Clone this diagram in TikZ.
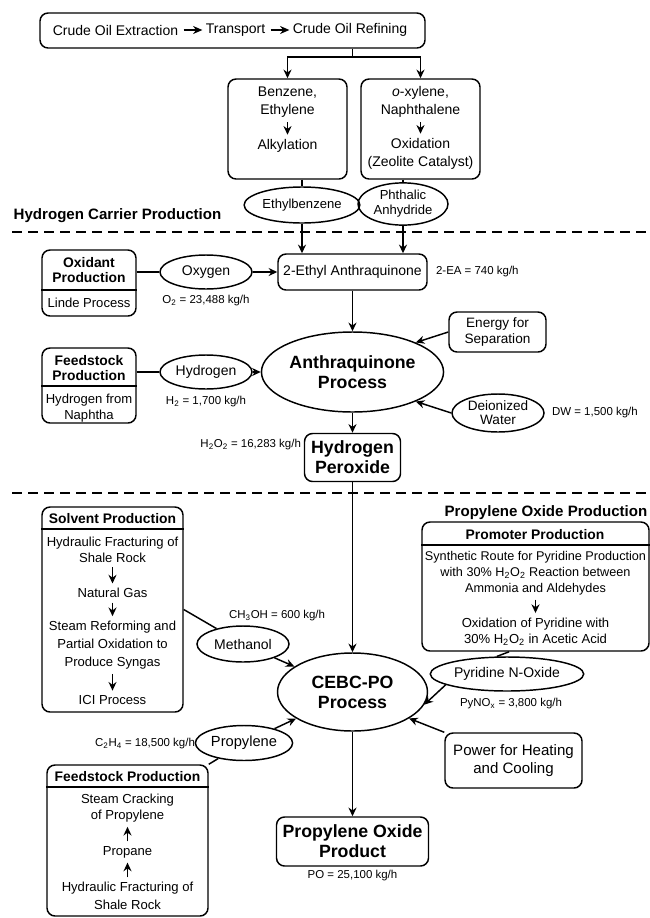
\documentclass[tikz,border=0pt]{standalone}
\usepackage{fontspec}
\setmainfont{Liberation Sans}
\usetikzlibrary{arrows.meta,shapes.geometric}

\tikzset{every picture/.style={line width=1.1pt}}
\tikzset{
	procbox/.style={draw, rounded corners=6pt, inner sep=0pt},
	flowell/.style={draw, ellipse, inner sep=0pt},
	fmain/.style={align=center, inner sep=1pt, font=\fontsize{10.5}{13.5}\selectfont},
	fbody/.style={align=center, inner sep=1pt, font=\fontsize{9.8}{12}\selectfont},
	fhead/.style={align=center, inner sep=1pt, font=\bfseries\fontsize{10.4}{11.25}\selectfont},
	fbig/.style={align=center, inner sep=1pt, font=\bfseries\fontsize{13.3}{15}\selectfont},
	frate/.style={inner sep=1pt, font=\fontsize{8.6}{10}\selectfont},
	fsection/.style={inner sep=0pt, font=\bfseries\fontsize{11.3}{13}\selectfont},
	flow/.style={-{Stealth[length=6.5pt,width=6pt]}},
	stepflow/.style={-{Stealth[length=6.5pt,width=6pt]}, shorten <=2pt, shorten >=2pt},
	chainflow/.style={-{Stealth[length=7pt,width=6pt]}, shorten <=2.5pt, shorten >=1pt},
	section line/.style={dash pattern=on 7.5pt off 4.5pt, line width=1.9pt}
}

\begin{document}
\begin{tikzpicture}[x=0.75pt,y=0.75pt,yscale=-1,xscale=1]
	\useasboundingbox (0,0) rectangle (650,918);

	%Shape: Rounded Rectangle [crude oil chain]
	\node[procbox, minimum width=288.75pt, minimum height=26.25pt] (crude) at (232.5,30.5) {};
	% Text Node
	\node[fmain] (extract) at (115.5,30) {Crude Oil Extraction};
	\node[fmain] (transport) at (235.5,30) {Transport};
	\node[fmain] (refine) at (350,30) {Crude Oil Refining};
	\draw[chainflow] (extract) -- (transport);
	\draw[chainflow] (transport) -- (refine);

	% split towards the two precursors
	\coordinate (split) at (352.5,57);
	\draw (crude.south -| split) -- (split);

	%Shape: Rounded Rectangle [benzene route]
	\node[procbox, minimum width=89.25pt, minimum height=75pt] (benzBox) at (287.5,129) {};
	\node[fmain] (benzene) at (287.5,102) {Benzene,\\Ethylene};
	\node[fmain] (alkyl) at (287.5,146) {Alkylation};
	\draw[stepflow] (benzene) -- (alkyl);
	%Shape: Rounded Rectangle [xylene route]
	\node[procbox, minimum width=89.25pt, minimum height=75pt] (xylBox) at (420.5,129) {};
	\node[fmain] (xylene) at (420.5,102) {\textit{o}-xylene,\\Naphthalene};
	\node[fmain] (oxidation) at (420.5,154) {Oxidation\\(Zeolite Catalyst)};
	\draw[stepflow] (xylene) -- (oxidation);
	\draw[flow] (split) -| (benzBox);
	\draw[flow] (split) -| (xylBox);

	%Shape: Ellipse
	\node[flowell, fbody, minimum width=69pt, minimum height=27pt] (ethylbenz) at (302,205) {Ethylbenzene};
	\node[flowell, fbody, font=\fontsize{9.8}{11.25}\selectfont, minimum width=67.5pt, minimum height=30pt] (phthalic) at (403,204) {Phthalic\\Anhydride};
	\draw (benzBox.south -| ethylbenz) -- (ethylbenz);
	\draw (xylBox.south -| phthalic) -- (phthalic);

	% Text Node
	\node[fsection, anchor=west] (carrierTitle) at (13,216) {Hydrogen Carrier Production};
	\draw[section line] (12,232) -- (652,232);

	%Shape: Rounded Rectangle [2-EA]
	\node[procbox, fmain, minimum width=111.75pt, minimum height=27pt] (ethylAQ) at (352.5,272) {2-Ethyl Anthraquinone};
	\node[frate, anchor=west] (eaRate) at (434,272) {2-EA = 740 kg/h};
	\draw[flow] (ethylbenz) -- (ethylbenz |- ethylAQ.north);
	\draw[flow] (phthalic) -- (phthalic |- ethylAQ.north);

	%Shape: Rounded Rectangle [oxidant]
	\node[procbox, minimum width=70.5pt, minimum height=49.5pt] (oxidantBox) at (89,283) {};
	\node[fhead] (oxidantHead) at (89,270.5) {Oxidant\\Production};
	\node[fbody] (oxidantBody) at (89,303) {Linde Process};
	\draw (oxidantBox.west |- 0,290) -- (oxidantBox.east |- 0,290);
	\node[flowell, fmain, minimum width=69pt, minimum height=25.5pt] (oxygen) at (206,272) {Oxygen};
	\node[frate] (o2Rate) at (206,301) {O\textsubscript{2} = 23,488 kg/h};
	\draw (oxygen.west -| oxidantBox.east) -- (oxygen.west);
	\draw[flow] (oxygen) -- (ethylAQ);

	%Shape: Ellipse [anthraquinone process]
	\node[flowell, fbig, minimum width=114pt, minimum height=60pt] (anthraProc) at (352.5,372) {Anthraquinone\\Process};
	\draw[flow] (ethylAQ) -- (anthraProc);

	\node[procbox, align=center, font=\fontsize{10.2}{11.5}\selectfont, minimum width=72.75pt, minimum height=30pt] (energySep) at (497.5,332) {Energy for\\Separation};
	\draw[flow] (energySep.west) -- (anthraProc.25);

	%Shape: Rounded Rectangle [hydrogen feedstock]
	\node[procbox, minimum width=70.5pt, minimum height=56.25pt] (feedBox) at (89,385.5) {};
	\node[fhead] (feedHead) at (89,368) {Feedstock\\Production};
	\node[fbody] (feedBody) at (89,408) {Hydrogen from\\Naphtha};
	\draw (feedBox.west |- 0,386) -- (feedBox.east |- 0,386);
	\node[flowell, fmain, minimum width=69pt, minimum height=25.5pt] (hydrogen) at (206,372) {Hydrogen};
	\node[frate] (h2Rate) at (206,402) {H\textsubscript{2} = 1,700 kg/h};
	\draw (hydrogen.west -| feedBox.east) -- (hydrogen.west);
	\draw[flow] (hydrogen) -- (anthraProc);

	\node[flowell, align=center, font=\fontsize{10.2}{10.5}\selectfont, minimum width=69pt, minimum height=28.5pt] (diWater) at (498,413) {Deionized\\Water};
	\node[frate, anchor=west] (dwRate) at (550,413) {DW = 1,500 kg/h};
	\draw[flow] (diWater.west) -- (anthraProc.-25);

	%Shape: Rounded Rectangle [hydrogen peroxide]
	\node[procbox, fbig, minimum width=72pt, minimum height=36pt] (peroxide) at (352.5,457.5) {Hydrogen\\Peroxide};
	\node[frate, anchor=east] (h2o2Rate) at (303,445) {H\textsubscript{2}O\textsubscript{2} = 16,283 kg/h};
	\draw[flow] (anthraProc) -- (peroxide);

	\draw[section line] (12,493) -- (652,493);
	\node[fsection, anchor=east] (oxideTitle) at (648,513) {Propylene Oxide Production};

	%Shape: Rounded Rectangle [solvent]
	\node[procbox, minimum width=105.75pt, minimum height=153.75pt] (solventBox) at (112.5,609.5) {};
	\node[fhead] (solventHead) at (112.5,519) {Solvent Production};
	\draw (solventBox.west |- 0,529) -- (solventBox.east |- 0,529);
	\node[fbody] (solventA) at (112.5,549.5) {Hydraulic Fracturing of\\Shale Rock};
	\node[fbody] (solventB) at (112.5,593) {Natural Gas};
	\node[fbody, font=\fontsize{9.8}{13.5}\selectfont] (solventC) at (112.5,645) {Steam Reforming and\\Partial Oxidation to\\Produce Syngas};
	\node[fbody] (solventD) at (112.5,700) {ICI Process};
	\draw[stepflow] (solventA) -- (solventB);
	\draw[stepflow] (solventB) -- (solventC);
	\draw[stepflow] (solventC) -- (solventD);

	\node[flowell, fmain, minimum width=69pt, minimum height=27pt] (methanol) at (243,644) {Methanol};
	\node[frate, anchor=west] (meRate) at (227,616) {CH\textsubscript{3}OH = 600 kg/h};
	\draw (solventBox.east) -- (methanol);

	%Shape: Ellipse [CEBC-PO process]
	\node[flowell, fbig, minimum width=112.5pt, minimum height=58.5pt] (cebcProc) at (352.5,692) {CEBC-PO\\Process};
	\draw[flow] (peroxide) -- (cebcProc);
	\draw[flow] (methanol) -- (cebcProc);

	%Shape: Rounded Rectangle [promoter]
	\node[procbox, minimum width=170.25pt, minimum height=96.75pt] (promoterBox) at (535.5,586.5) {};
	\node[fhead] (promoterHead) at (535,534.5) {Promoter Production};
	\draw (promoterBox.west |- 0,545) -- (promoterBox.east |- 0,545);
	\node[fbody, font=\fontsize{9.5}{12}\selectfont] (promoterA) at (535.5,573) {Synthetic Route for Pyridine Production\\with 30\% H\textsubscript{2}O\textsubscript{2} Reaction between\\Ammonia and Aldehydes};
	\node[fbody] (promoterB) at (535.5,631.5) {Oxidation of Pyridine with\\30\% H\textsubscript{2}O\textsubscript{2} in Acetic Acid};
	\draw[stepflow] (promoterA) -- (promoterB);

	\node[flowell, fmain, minimum width=93pt, minimum height=25.5pt] (pyridine) at (507,674) {Pyridine N-Oxide};
	\node[frate, anchor=west] (pyRate) at (458,704) {PyNO\textsubscript{x} = 3,800 kg/h};
	\draw (promoterBox.-112) -- (pyridine.120);
	\draw[flow] (pyridine.190) -- (cebcProc.-10);

	\node[flowell, fmain, font=\fontsize{11}{13}\selectfont, minimum width=68.25pt, minimum height=26.25pt] (propylene) at (244,743) {Propylene};
	\node[frate, anchor=east] (c2h4Rate) at (197,744) {C\textsubscript{2}H\textsubscript{4} = 18,500 kg/h};
	\draw[flow] (propylene) -- (cebcProc);

	%Shape: Rounded Rectangle [propylene feedstock]
	\node[procbox, minimum width=120.75pt, minimum height=113.25pt] (feedstockBox) at (127.5,840.5) {};
	\node[fhead] (feedstockHead) at (127.5,776.5) {Feedstock Production};
	\draw (feedstockBox.west |- 0,787) -- (feedstockBox.east |- 0,787);
	\node[fbody] (feedstockA) at (127.5,808) {Steam Cracking\\of Propylene};
	\node[fbody] (feedstockB) at (127.5,852) {Propane};
	\node[fbody, font=\fontsize{9.8}{13.5}\selectfont] (feedstockC) at (127.5,896) {Hydraulic Fracturing of\\Shale Rock};
	\draw[stepflow] (feedstockB) -- (feedstockA);
	\draw[stepflow] (feedstockC) -- (feedstockB);
	\draw (feedstockBox.north east) -- (propylene);

	\node[procbox, align=center, font=\fontsize{11.3}{14}\selectfont, minimum width=102.75pt, minimum height=41.25pt] (powerHC) at (513.5,760.5) {Power for Heating\\and Cooling};
	\draw[flow] (powerHC.north west) -- (cebcProc.-25);

	%Shape: Rounded Rectangle [product]
	\node[procbox, fbig, minimum width=114pt, minimum height=36.75pt] (poProduct) at (352.5,841.5) {Propylene Oxide\\Product};
	\node[frate] (poRate) at (352.5,876) {PO = 25,100 kg/h};
	\draw[flow] (cebcProc) -- (poProduct);

\end{tikzpicture}
\end{document}
